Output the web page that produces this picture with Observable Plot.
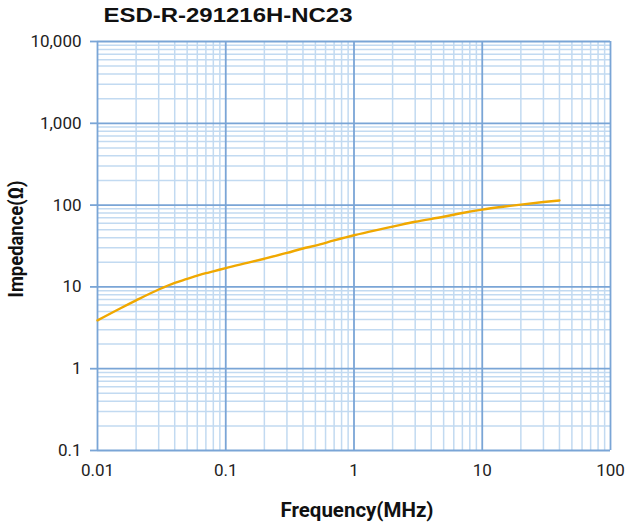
<!DOCTYPE html>
<html>
<head>
<meta charset="utf-8">
<script src="https://cdn.jsdelivr.net/npm/d3@7"></script>
<script src="https://cdn.jsdelivr.net/npm/@observablehq/plot@0.6"></script>
<style>
  body { margin: 0; background: #fff; }
  #chart { position: relative; width: 627px; height: 527px; }
</style>
</head>
<body>
<div id="chart"></div>
<script>
const title = "ESD-R-291216H-NC23";
const xLabel = "Frequency(MHz)";
const yLabel = "Impedance(Ω)";

const freqMHz = [0.01, 0.015, 0.02, 0.03, 0.04, 0.05, 0.06, 0.07, 0.08, 0.1, 0.15, 0.2, 0.3, 0.4, 0.5, 0.7, 1, 1.5, 2, 3, 5, 7, 10, 15, 20, 30, 40];
const impedance = [3.9, 5.45, 6.85, 9.3, 11.2, 12.5, 13.7, 14.7, 15.5, 17.0, 19.8, 22.1, 26.0, 29.5, 32.0, 37.0, 42.8, 49.5, 54.5, 62.5, 72.0, 80.0, 88.0, 96.0, 101.5, 109.0, 114.0];

const xMajor = [0.01, 0.1, 1, 10, 100];
const yMajor = [0.1, 1, 10, 100, 1000, 10000];
const multipliers = [2, 3, 4, 5, 6, 7, 8, 9];

const xMinor = xMajor.slice(0, -1).flatMap(d => multipliers.map(m => +(d * m).toPrecision(3)));
const yMinor = yMajor.slice(0, -1).flatMap(d => multipliers.map(m => +(d * m).toPrecision(3)));

const data = freqMHz.map((f, i) => ({f, z: impedance[i]}));

const majorColor = "#7aa5d6";
const minorColor = "#c2daf1";

const fmtY = v => v >= 1 ? d3.format(",")(v) : String(v);

const chart = Plot.plot({
  width: 627,
  height: 527,
  marginLeft: 97,
  marginRight: 17,
  marginTop: 41,
  marginBottom: 77,
  style: {fontFamily: "Roboto, sans-serif", fontSize: "17px", color: "#222", background: "#fff"},
  x: {type: "log", domain: [0.01, 100]},
  y: {type: "log", domain: [0.1, 10000]},
  marks: [
    Plot.ruleX(xMinor, {stroke: minorColor, strokeWidth: 1.5}),
    Plot.ruleY(yMinor, {stroke: minorColor, strokeWidth: 1.5}),
    Plot.ruleX(xMajor, {stroke: majorColor, strokeWidth: 1.8}),
    Plot.ruleY(yMajor, {stroke: majorColor, strokeWidth: 1.8}),
    Plot.axisY({ticks: yMajor, tickFormat: fmtY, tickSize: 7, tickPadding: 9, stroke: majorColor, strokeWidth: 1.8, fontSize: 17, label: null}),
    Plot.axisX({ticks: xMajor, tickFormat: d => String(d), tickSize: 0, tickPadding: 13, fontSize: 17, label: null}),
    Plot.line(data, {x: "f", y: "z", stroke: "#f0a800", strokeWidth: 2.4, curve: "monotone-x"}),
    Plot.text([title], {frameAnchor: "top-left", dx: 6, dy: -26, text: d => d, textAnchor: "start", lineAnchor: "middle", fontFamily: "Liberation Sans, Arial, sans-serif", fontWeight: "bold", fontSize: 21, fill: "#111"}),
    Plot.text([xLabel], {frameAnchor: "bottom", dx: 3, dy: 60, text: d => d, textAnchor: "middle", lineAnchor: "middle", fontWeight: "bold", fontSize: 21, fill: "#111"}),
    Plot.text([yLabel], {frameAnchor: "left", dx: -81, dy: -7, rotate: -90, text: d => d, textAnchor: "middle", lineAnchor: "middle", fontWeight: "bold", fontSize: 21, fill: "#111"})
  ]
});

const fitWidths = new Map([[title, 249], [xLabel, 153], [yLabel, 117]]);
d3.select(chart).selectAll("text")
  .filter(function() { return fitWidths.has(this.textContent); })
  .each(function() {
    this.setAttribute("textLength", fitWidths.get(this.textContent));
    this.setAttribute("lengthAdjust", "spacingAndGlyphs");
  });

document.getElementById("chart").appendChild(chart);
</script>
</body>
</html>
